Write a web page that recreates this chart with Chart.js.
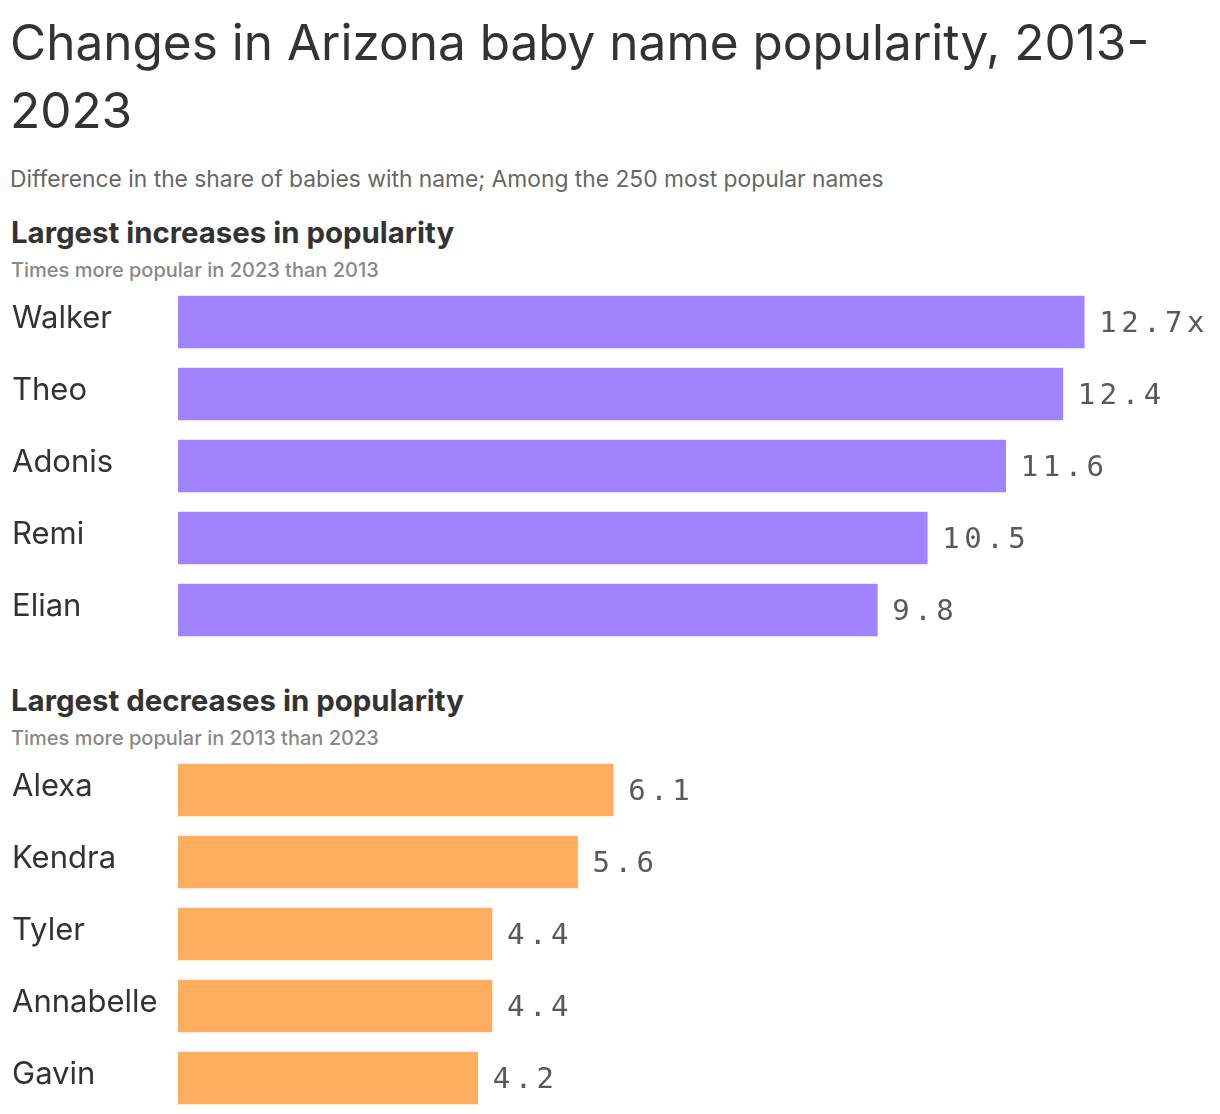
<!DOCTYPE html>
<html>
<head>
<meta charset="utf-8">
<script src="https://cdn.jsdelivr.net/npm/chart.js@4.4.1/dist/chart.umd.min.js"></script>
<style>
  html, body { margin: 0; padding: 0; background: #fff; }
  body { width: 1220px; height: 1114px; position: relative; overflow: hidden; font-family: Inter, "Noto Sans", sans-serif; }
  .title { position: absolute; left: 10px; top: 8px; width: 1200px; margin: 0; font-size: 49.5px; line-height: 68px; font-weight: 400; color: #333; }
  .subtitle { position: absolute; left: 10px; top: 164px; margin: 0; font-size: 22.8px; line-height: 30px; color: #666; }
  .head { position: absolute; left: 11px; margin: 0; font-size: 29.4px; line-height: 34px; font-weight: 700; color: #333; }
  .sub { position: absolute; left: 11px; margin: 0; font-size: 20px; line-height: 24px; font-weight: 500; color: #888; }
  .box { position: absolute; left: 0; width: 1220px; height: 360px; }
</style>
</head>
<body>
<h1 class="title">Changes in Arizona baby name popularity, 2013-2023</h1>
<p class="subtitle">Difference in the share of babies with name; Among the 250 most popular names</p>

<p class="head" style="top:216px">Largest increases in popularity</p>
<p class="sub" style="top:258px">Times more popular in 2023 than 2013</p>
<div class="box" style="top:286px"><canvas id="upCtx"></canvas></div>

<p class="head" style="top:684px">Largest decreases in popularity</p>
<p class="sub" style="top:726px">Times more popular in 2013 than 2023</p>
<div class="box" style="top:754px"><canvas id="downCtx"></canvas></div>

<script>
// names and values
const upNames = ["Walker", "Theo", "Adonis", "Remi", "Elian"];
const upValues = [12.7, 12.4, 11.6, 10.5, 9.8];
const downNames = ["Alexa", "Kendra", "Tyler", "Annabelle", "Gavin"];
const downValues = [6.1, 5.6, 4.4, 4.4, 4.2];

const X_MAX = 14;

// draws the number after every bar, "x" only on the first one
const valueLabels = {
    id: "valueLabels",
    afterDatasetsDraw(chart) {
        const ctx = chart.ctx;
        const meta = chart.getDatasetMeta(0);
        const values = chart.data.datasets[0].data;
        ctx.save();
        ctx.font = "29px 'DejaVu Sans Mono', monospace";
        ctx.fillStyle = "#595959";
        ctx.textAlign = "left";
        ctx.textBaseline = "middle";
        ctx.letterSpacing = "4.5px";
        meta.data.forEach(function (bar, i) {
            let txt = values[i].toFixed(1);
            if (i === 0 && chart.options.firstSuffix) txt += "x";
            ctx.fillText(txt, bar.x + 15, bar.y + 2);
        });
        ctx.restore();
    }
};

function makeChart(canvasId, names, values, color, suffix) {
    return new Chart(document.getElementById(canvasId), {
        type: "bar",
        data: {
            labels: names,
            datasets: [{
                data: values,
                backgroundColor: color,
                borderWidth: 0,
                barThickness: 52
            }]
        },
        options: {
            indexAxis: "y",
            responsive: true,
            maintainAspectRatio: false,
            animation: false,
            firstSuffix: suffix,
            layout: { padding: { left: 12, right: 43, top: 0, bottom: 0 } },
            plugins: { legend: { display: false }, tooltip: { enabled: false } },
            scales: {
                x: { display: false, min: 0, max: X_MAX },
                y: {
                    grid: { display: false },
                    border: { display: false },
                    afterFit: function (scale) {
                        scale.width = 166;
                        // labels must not push the bars inward
                        scale.paddingTop = 0;
                        scale.paddingBottom = 0;
                    },
                    ticks: {
                        crossAlign: "far",
                        padding: 0,
                        labelOffset: -3,
                        color: "#333",
                        font: { family: "Inter", size: 31 }
                    }
                }
            }
        },
        plugins: [valueLabels]
    });
}

makeChart("upCtx", upNames, upValues, "#a182ff", true);
makeChart("downCtx", downNames, downValues, "#ffae5f", false);
</script>
</body>
</html>
